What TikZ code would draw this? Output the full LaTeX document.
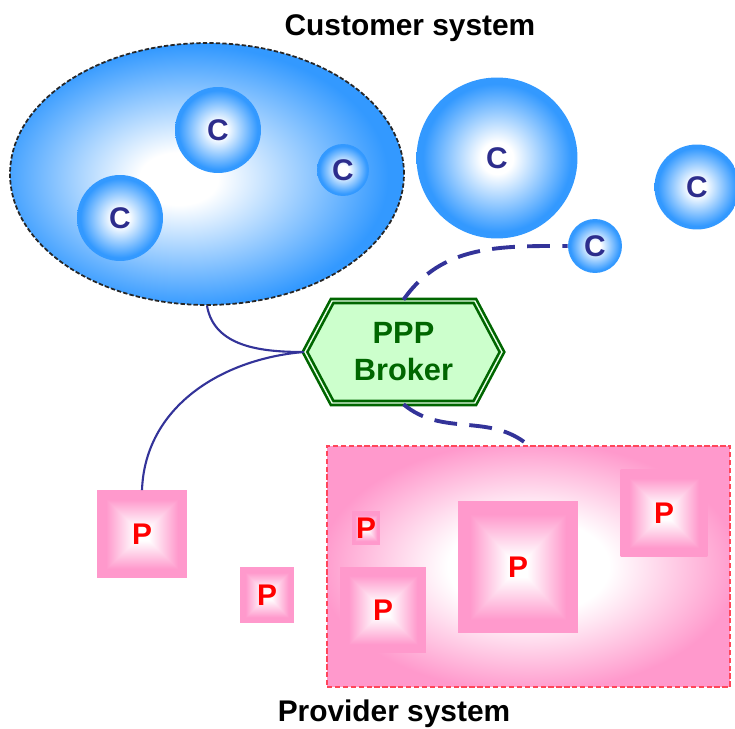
\documentclass[tikz,border=0pt]{standalone}
\usepackage{fontspec}
\setmainfont{Liberation Sans}
\usetikzlibrary{shapes.geometric,shapes.symbols}
\definecolor{cblue}{RGB}{51,153,255}
\definecolor{cletter}{RGB}{45,45,140}
\definecolor{ppink}{RGB}{255,153,204}
\definecolor{pred}{RGB}{255,0,0}
\definecolor{pborder}{RGB}{255,70,90}
\definecolor{lnblue}{RGB}{51,51,153}
\definecolor{bgreen}{RGB}{0,102,0}
\definecolor{bfill}{RGB}{204,255,204}
% ball shading for the C circles
\pgfdeclareradialshading{cball}{\pgfpoint{0bp}{0bp}}{color(0bp)=(white); color(5bp)=(white); color(23bp)=(cblue); color(50bp)=(cblue)}
% the customer system, light spot a bit to the left
\pgfdeclareradialshading{custball}{\pgfpoint{-4bp}{-1bp}}{color(0bp)=(white); color(5bp)=(white); color(25bp)=(cblue); color(50bp)=(cblue)}
% the provider system
\pgfdeclareradialshading{provball}{\pgfpoint{0bp}{0bp}}{color(0bp)=(white); color(10bp)=(white); color(26bp)=(ppink); color(50bp)=(ppink)}
% square shading for the P boxes: white middle, pink edges
\pgfdeclarefunctionalshading{pbox}{\pgfpoint{-50bp}{-50bp}}{\pgfpoint{50bp}{50bp}}{}{abs exch abs 2 copy sub abs add add 2 div 25 div 0.15 sub 0.65 div dup abs add 2 div dup 1 sub abs neg add 1 add 2 div 1 exch dup 0.4 mul 1 exch sub exch 0.2 mul 1 exch sub}
\begin{document}
\begin{tikzpicture}[x=0.02cm, y=-0.02cm,
  title/.style={font=\fontsize{17}{19}\selectfont\bfseries},
  cnode/.style={circle, shade, shading=cball, inner sep=0pt, text=cletter,
    font=\fontsize{17}{19}\selectfont\bfseries},
  pnode/.style={rectangle, shade, shading=pbox, inner sep=0pt, text=pred,
    font=\fontsize{17}{19}\selectfont\bfseries},
  solidlink/.style={draw=lnblue, line width=1.2pt},
  dashlink/.style={draw=lnblue, line width=2.2pt, dash pattern=on 13pt off 7pt}]
  \useasboundingbox (0,0) rectangle (735,729);

  % customer system: dashed ellipse with three C's inside
  \node[title] (custtitle) at (410,28) {Customer system};
  \node[ellipse, shade, shading=custball, draw=black!85, line width=1pt,
    dash pattern=on 2.5pt off 1.2pt, minimum width=7.88cm, minimum height=5.24cm]
    (cust) at (207,174) {};
  \node[cnode, minimum size=1.72cm] (c1) at (218,130) {C};
  \node[cnode, minimum size=1.72cm] (c2) at (120,218) {C};
  \node[cnode, minimum size=1.04cm] (c3) at (343,170) {C};

  % loose customers on the right
  \node[cnode, minimum size=3.22cm] (c4) at (497,158) {C};
  \node[cnode, minimum size=1.7cm] (c5) at (697,187) {C};
  \node[cnode, minimum size=1.08cm] (c6) at (595,246) {C};

  % the broker in the middle
  \node[signal, signal to=west and east, signal pointer angle=124,
    draw=bgreen, line width=1.5pt, double=bfill!50!white, double distance=0.8pt,
    fill=bfill, text=bgreen, align=center, inner sep=0pt,
    font=\fontsize{17.5}{21}\selectfont\bfseries,
    minimum width=3.94cm, minimum height=2.04cm] (broker) at (403.5,352) {PPP\\Broker};

  % provider system: dashed rectangle with four P's inside
  \node[rectangle, shade, shading=provball, draw=pborder, line width=0.8pt,
    dash pattern=on 3pt off 1.5pt, minimum width=8.06cm, minimum height=4.82cm]
    (prov) at (528.5,566.5) {};
  \node[pnode, minimum width=0.56cm, minimum height=0.66cm] (pa) at (366,528) {P};
  \node[pnode, minimum size=1.72cm] (pb) at (383,610) {P};
  \node[pnode, minimum width=2.4cm, minimum height=2.64cm] (pc) at (518,567) {P};
  \node[pnode, minimum size=1.74cm] (pd) at (664,513) {P};
  \node[title] (provtitle) at (394,714) {Provider system};

  % loose providers on the left
  \node[pnode, minimum width=1.8cm, minimum height=1.74cm] (p1) at (142,534) {P};
  \node[pnode, minimum width=1.08cm, minimum height=1.12cm] (p2) at (267,595) {P};

  % links to the broker
  \draw[solidlink] (cust.south) to[out=-80, in=180] (broker.west);
  \draw[solidlink] (broker.west) to[out=185, in=88] (p1.north);
  \draw[dashlink] (broker.north) to[out=55, in=180] (c6.west);
  \draw[dashlink] (broker.south) to[out=-40, in=140] (prov.north);
\end{tikzpicture}
\end{document}
